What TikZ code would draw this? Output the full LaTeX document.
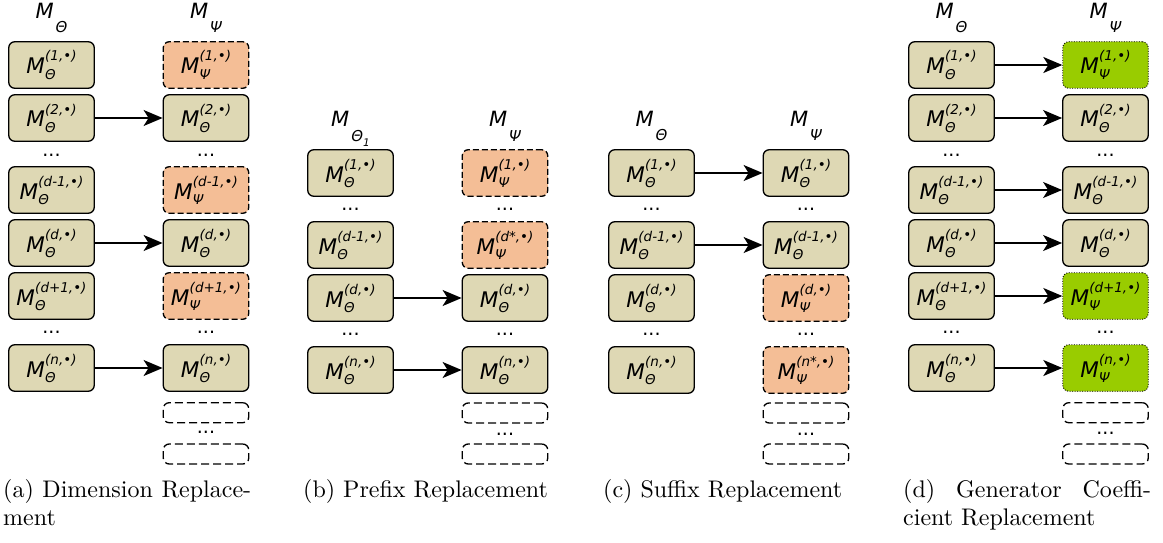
\documentclass[tikz,border=0pt]{standalone}
\usepackage{fontspec}
\newfontfamily\dv{DejaVu Sans}
\newfontfamily\capfont{lmroman10-regular.otf}
\usetikzlibrary{arrows.meta}
\definecolor{boxtan}{RGB}{222,216,180}
\definecolor{boxorange}{RGB}{244,190,150}
\definecolor{boxgreen}{RGB}{153,204,0}
\newcommand{\ml}[2]{M\kern0.2pt\raisebox{-5.5pt}{\fontsize{13.5}{18.5}\selectfont\begin{tabular}[b]{@{}l@{}}#1\\#2\end{tabular}}}
\newcommand{\hs}[1]{M\kern2pt\raisebox{-14pt}{\fontsize{15}{15}\selectfont #1}}
\begin{document}
\begin{tikzpicture}[x=1pt,y=-1pt,
  mbox/.style={draw, rounded corners=6pt, line width=1.3pt, minimum width=85.5pt, minimum height=46.5pt, inner sep=0pt, text height=22pt, text depth=4pt, font=\dv\itshape\fontsize{21.5}{22}\selectfont},
  tanbox/.style={mbox, fill=boxtan},
  orbox/.style={mbox, fill=boxorange, dash pattern=on 6pt off 3pt},
  grbox/.style={mbox, fill=boxgreen, line width=0.9pt, dash pattern=on 1pt off 1.5pt},
  emptybox/.style={draw, rounded corners=6pt, line width=1.3pt, dash pattern=on 8pt off 4pt, minimum width=85.5pt, minimum height=20pt, inner sep=0pt},
  hdr/.style={anchor=base, inner sep=0pt, font=\dv\itshape\fontsize{21}{21}\selectfont},
  ellip/.style={anchor=base, inner sep=0pt, font=\dv\fontsize{19}{19}\selectfont},
  arr/.style={-{Stealth[length=19pt,width=16pt,inset=5pt]}, line width=1.5pt},
  capt/.style={anchor=base west, inner sep=0pt, font=\capfont\fontsize{24}{28.5}\selectfont}
]
\useasboundingbox (0,0) rectangle (1163,543);
\fill[white] (0,0) rectangle (1163,543);

% ---------- (a) ----------
\node[hdr] (ah1) at (51.5,19) {\hs{Θ}};
\node[hdr] (ah2) at (206,19) {\hs{Ψ}};
\node[tanbox] (a1) at (51.5,65) {\ml{(1,•)}{Θ}};
\node[orbox] (a1r) at (206,65) {\ml{(1,•)}{Ψ}};
\node[tanbox] (a2) at (51.5,118) {\ml{(2,•)}{Θ}};
\node[tanbox] (a2r) at (206,118) {\ml{(2,•)}{Θ}};
\node[ellip] (ad1) at (51.5,156.3) {...};
\node[ellip] (ad1r) at (206,156.3) {...};
\node[tanbox] (a3) at (51.5,190) {\ml{(d-1,•)}{Θ}};
\node[orbox] (a3r) at (206,190) {\ml{(d-1,•)}{Ψ}};
\node[tanbox] (a4) at (51.5,243) {\ml{(d,•)}{Θ}};
\node[tanbox] (a4r) at (206,243) {\ml{(d,•)}{Θ}};
\node[tanbox] (a5) at (51.5,296) {\ml{(d+1,•)}{Θ}};
\node[orbox] (a5r) at (206,296) {\ml{(d+1,•)}{Ψ}};
\node[ellip] (ad2) at (51.5,333.3) {...};
\node[ellip] (ad2r) at (206,333.3) {...};
\node[tanbox] (a6) at (51.5,368) {\ml{(n,•)}{Θ}};
\node[tanbox] (a6r) at (206,368) {\ml{(n,•)}{Θ}};
\node[emptybox] (ae1) at (206,412.7) {};
\node[ellip] (ad3) at (206,433.8) {...};
\node[emptybox] (ae2) at (206,454) {};
\draw[arr] (a2) -- (a2r);
\draw[arr] (a4) -- (a4r);
\draw[arr] (a6) -- (a6r);
\node[capt] (acap) at (3,497) {\parbox[t]{248pt}{\makebox[248pt][s]{(a) Dimension Replace-}\\ment}};

% ---------- (b) ----------
\node[hdr] (bh1) at (350.5,127) {\hs{Θ\raisebox{-6pt}{\fontsize{10.5}{10.5}\selectfont 1}}};
\node[hdr] (bh2) at (505,127) {\hs{Ψ}};
\node[tanbox] (b1) at (350.5,173) {\ml{(1,•)}{Θ}};
\node[orbox] (b1r) at (505,173) {\ml{(1,•)}{Ψ}};
\node[ellip] (bd1) at (350.5,210.3) {...};
\node[ellip] (bd1r) at (505,210.3) {...};
\node[tanbox] (b2) at (350.5,245) {\ml{(d-1,•)}{Θ}};
\node[orbox] (b2r) at (505,245) {\ml{(d*,•)}{Ψ}};
\node[tanbox] (b3) at (350.5,298) {\ml{(d,•)}{Θ}};
\node[tanbox] (b3r) at (505,298) {\ml{(d,•)}{Θ}};
\node[ellip] (bd2) at (350.5,335.3) {...};
\node[ellip] (bd2r) at (505,335.3) {...};
\node[tanbox] (b4) at (350.5,370) {\ml{(n,•)}{Θ}};
\node[tanbox] (b4r) at (505,370) {\ml{(n,•)}{Θ}};
\node[emptybox] (be1) at (505,413) {};
\node[ellip] (bd3) at (505,435.3) {...};
\node[emptybox] (be2) at (505,454) {};
\draw[arr] (b3) -- (b3r);
\draw[arr] (b4) -- (b4r);
\node[capt] (bcap) at (303,497) {(b) Prefix Replacement};

% ---------- (c) ----------
\node[hdr] (ch1) at (651.5,126.5) {\hs{Θ}};
\node[hdr] (ch2) at (806,126.5) {\hs{Ψ}};
\node[tanbox] (c1) at (651.5,173) {\ml{(1,•)}{Θ}};
\node[tanbox] (c1r) at (806,173) {\ml{(1,•)}{Θ}};
\node[ellip] (cd1) at (651.5,210.3) {...};
\node[ellip] (cd1r) at (806,210.3) {...};
\node[tanbox] (c2) at (651.5,245) {\ml{(d-1,•)}{Θ}};
\node[tanbox] (c2r) at (806,245) {\ml{(d-1,•)}{Θ}};
\node[tanbox] (c3) at (651.5,298) {\ml{(d,•)}{Θ}};
\node[orbox] (c3r) at (806,298) {\ml{(d,•)}{Ψ}};
\node[ellip] (cd2) at (651.5,335.3) {...};
\node[ellip] (cd2r) at (806,335.3) {...};
\node[tanbox] (c4) at (651.5,370) {\ml{(n,•)}{Θ}};
\node[orbox] (c4r) at (806,370) {\ml{(n*,•)}{Ψ}};
\node[emptybox] (ce1) at (806,413) {};
\node[ellip] (cd3) at (806,435.3) {...};
\node[emptybox] (ce2) at (806,454) {};
\draw[arr] (c1) -- (c1r);
\draw[arr] (c2) -- (c2r);
\node[capt] (ccap) at (603,497) {(c) Suffix Replacement};

% ---------- (d) ----------
\node[hdr] (dh1) at (951.5,19) {\hs{Θ}};
\node[hdr] (dh2) at (1105.5,19) {\hs{Ψ}};
\node[tanbox] (d1) at (951.5,65) {\ml{(1,•)}{Θ}};
\node[grbox] (d1r) at (1105.5,65) {\ml{(1,•)}{Ψ}};
\node[tanbox] (d2) at (951.5,118) {\ml{(2,•)}{Θ}};
\node[tanbox] (d2r) at (1105.5,118) {\ml{(2,•)}{Θ}};
\node[ellip] (dd1) at (951.5,156.3) {...};
\node[ellip] (dd1r) at (1105.5,156.3) {...};
\node[tanbox] (d3) at (951.5,190) {\ml{(d-1,•)}{Θ}};
\node[tanbox] (d3r) at (1105.5,190) {\ml{(d-1,•)}{Θ}};
\node[tanbox] (d4) at (951.5,243) {\ml{(d,•)}{Θ}};
\node[tanbox] (d4r) at (1105.5,243) {\ml{(d,•)}{Θ}};
\node[tanbox] (d5) at (951.5,296) {\ml{(d+1,•)}{Θ}};
\node[grbox] (d5r) at (1105.5,296) {\ml{(d+1,•)}{Ψ}};
\node[ellip] (dd2) at (951.5,333.3) {...};
\node[ellip] (dd2r) at (1105.5,333.3) {...};
\node[tanbox] (d6) at (951.5,368) {\ml{(n,•)}{Θ}};
\node[grbox] (d6r) at (1105.5,368) {\ml{(n,•)}{Ψ}};
\node[emptybox] (de1) at (1105.5,412.7) {};
\node[ellip] (dd3) at (1105.5,434.5) {...};
\node[emptybox] (de2) at (1105.5,454) {};
\draw[arr] (d1) -- (d1r);
\draw[arr] (d2) -- (d2r);
\draw[arr] (d3) -- (d3r);
\draw[arr] (d4) -- (d4r);
\draw[arr] (d5) -- (d5r);
\draw[arr] (d6) -- (d6r);
\node[capt] (dcap) at (903,497) {\parbox[t]{248pt}{\makebox[248pt][s]{(d) Generator Coeffi-}\\cient Replacement}};
\end{tikzpicture}
\end{document}
